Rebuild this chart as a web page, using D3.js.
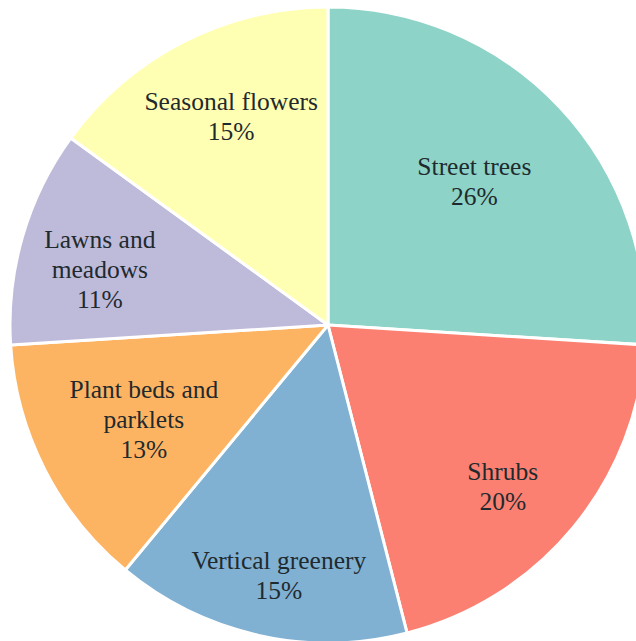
<!DOCTYPE html>
<html><head><meta charset="utf-8">
<script src="https://cdn.jsdelivr.net/npm/d3@7"></script>
<style>html,body{margin:0;padding:0;background:#fff;overflow:hidden}</style>
</head><body>
<svg id="c" width="636" height="641"></svg>
<script>
const categories = ["Street trees","Shrubs","Vertical greenery","Plant beds and parklets","Lawns and meadows","Seasonal flowers"];
const labelLines = [["Street trees"],["Shrubs"],["Vertical greenery"],["Plant beds and","parklets"],["Lawns and","meadows"],["Seasonal flowers"]];
const values = [26,20,15,13,11,15];
const colors = ["#8dd3c7","#fb8072","#80b1d3","#fdb462","#bebada","#ffffb3"];
// layout: label distance from centre as a fraction of the radius, plus small pixel nudges
const labelRadius = [0.64,0.75,0.81,0.65,0.78,0.74];
const labelNudge = [[-2,-4],[-9,10],[7,0],[0,1],[10,14],[10,2]];

const svg = d3.select("#c");
const cx = 328, cy = 325, R = 318;
const g = svg.append("g").attr("transform",`translate(${cx},${cy})`);
const pie = d3.pie().sort(null).value(d=>d.v);
const data = pie(categories.map((c,i)=>({c, v:values[i], lines:labelLines[i], col:colors[i], lr:labelRadius[i], nd:labelNudge[i]})));
const arc = d3.arc().innerRadius(0).outerRadius(R);
g.selectAll("path").data(data).join("path")
  .attr("d",arc).attr("fill",d=>d.data.col)
  .attr("stroke","#fff").attr("stroke-width",3).attr("stroke-linejoin","round");
const total = d3.sum(values);
const lh = 30;
data.forEach(d=>{
  const lab = d3.arc().innerRadius(R*d.data.lr).outerRadius(R*d.data.lr);
  let [x,y] = lab.centroid(d);
  x += d.data.nd[0]; y += d.data.nd[1];
  const lines = d.data.lines.concat([Math.round(d.data.v/total*100)+"%"]);
  const t = g.append("text").attr("text-anchor","middle")
    .attr("font-family","'Liberation Serif','Times New Roman',serif")
    .attr("font-size",25.5).attr("fill","#1f2a2e");
  lines.forEach((s,i)=>{
    t.append("tspan").attr("x",x).attr("y",y+(i-(lines.length-1)/2)*lh+8).text(s);
  });
});
</script>
</body></html>
